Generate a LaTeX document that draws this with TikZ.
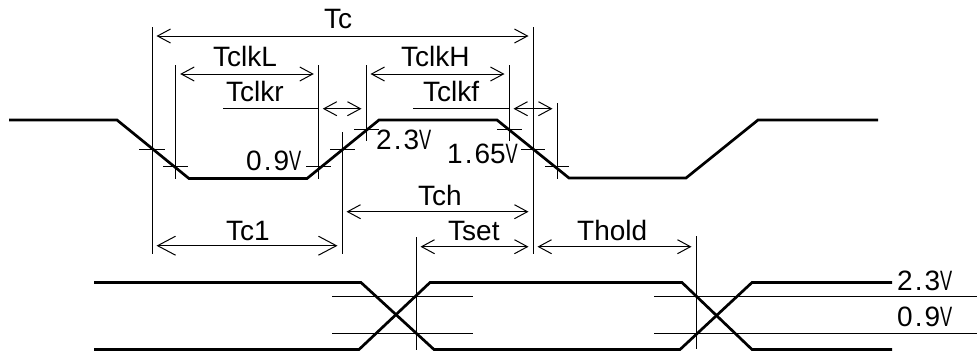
\documentclass[tikz,border=0pt]{standalone}
\usepackage{fontspec}
\usepackage{graphicx}
\setmainfont{Liberation Sans}
\usetikzlibrary{arrows.meta}
\newcommand{\vdot}{\kern2pt.\kern2pt}
\newcommand{\vunit}{\scalebox{.65}[1]{V}}
\tikzset{
    signal/.style={line width=2.7pt},
    guide/.style={line width=1pt},
    dimline/.style={line width=1pt,<->,shorten <=4.5pt,shorten >=4.5pt},
    timelabel/.style={anchor=base west,inner sep=0pt,font=\fontsize{28}{30}\selectfont},
    voltlabel/.style={anchor=base west,inner sep=0pt,font=\fontsize{28}{30}\selectfont},
}

\begin{document}
\begin{tikzpicture}[x=1pt,y=-1pt,>={Straight Barb[length=13pt,width=14pt,line width=1pt]}]
    \useasboundingbox (0,0) rectangle (977,360);
    % clock
    \draw[signal] (9,120) -- (117,120) -- (189,178.5) -- (307,178.5) -- (379,120) -- (497,120)
        -- (569,178) -- (686,178) -- (758,120) -- (878,120);
    % data
    \draw[signal] (94,282.5) -- (361,282.5) -- (434,349.5) -- (680,349.5) -- (752,282.5) -- (892,282.5);
    \draw[signal] (94,349.5) -- (359,349.5) -- (430,282.5) -- (682,282.5) -- (752,349.5) -- (892,349.5);
    % long guide lines
    \draw[guide] (152,27) -- (152,254);
    \draw[guide] (533,27) -- (533,254);
    \draw[guide] (175.7,65) -- (175.7,178.5);
    \draw[guide] (318.3,65) -- (318.3,178.5);
    \draw[guide] (366,65) -- (366,141);
    \draw[guide] (509,65) -- (509,141);
    \draw[guide] (557,103) -- (557,178.5);
    \draw[guide] (342,132) -- (342,254);
    \draw[guide] (416,237) -- (416,350);
    \draw[guide] (696,236) -- (696,349);
    % ticks on the clock edges
    \draw[guide] (139,149.5) -- (164.5,149.5);
    \draw[guide] (163,166) -- (188,166);
    \draw[guide] (306,166) -- (331,166);
    \draw[guide] (330,149.5) -- (355,149.5);
    \draw[guide] (354,129) -- (379,129);
    \draw[guide] (497,129) -- (522,129);
    \draw[guide] (521,149.5) -- (545,149.5);
    \draw[guide] (545,166) -- (569,166);
    % levels
    \draw[guide] (332,296) -- (473,296);
    \draw[guide] (332,333.7) -- (473,333.7);
    \draw[guide] (654,296) -- (977,296);
    \draw[guide] (654,333.7) -- (977,333.7);
    % leaders
    \draw[guide] (223,108.7) -- (318.3,108.7);
    \draw[guide] (413,108.7) -- (509,108.7);
    % dimensions
    \coordinate (tcA) at (152,36);
    \coordinate (tcB) at (533,36);
    \coordinate (tclkLA) at (175.7,74);
    \coordinate (tclkLB) at (318.3,74);
    \coordinate (tclkHA) at (366,74);
    \coordinate (tclkHB) at (509,74);
    \coordinate (tclkrA) at (318.3,108.7);
    \coordinate (tclkrB) at (366,108.7);
    \coordinate (tclkfA) at (509,108.7);
    \coordinate (tclkfB) at (557,108.7);
    \coordinate (tchA) at (342,211.7);
    \coordinate (tchB) at (533,211.7);
    \coordinate (tc1A) at (152,245.7);
    \coordinate (tc1B) at (342,245.7);
    \coordinate (tsetA) at (416,246.7);
    \coordinate (tsetB) at (533,246.7);
    \coordinate (tholdA) at (533,246.7);
    \coordinate (tholdB) at (696,246.7);
    \draw[dimline] (tcA) -- (tcB);
    \draw[dimline] (tclkLA) -- (tclkLB);
    \draw[dimline] (tclkHA) -- (tclkHB);
    \draw[dimline] (tclkrA) -- (tclkrB);
    \draw[dimline] (tclkfA) -- (tclkfB);
    \draw[dimline] (tchA) -- (tchB);
    \draw[dimline,>={Straight Barb[length=18pt,width=19pt,line width=1pt]}] (tc1A) -- (tc1B);
    \draw[dimline] (tsetA) -- (tsetB);
    \draw[dimline] (tholdA) -- (tholdB);
    % labels
    \node[timelabel] (tc) at (324,28) {Tc};
    \node[timelabel] (tclkL) at (213,66.7) {TclkL};
    \node[timelabel] (tclkH) at (401,66.7) {TclkH};
    \node[timelabel] (tclkr) at (226,101.7) {Tclkr};
    \node[timelabel] (tclkf) at (423,101.7) {Tclkf};
    \node[timelabel] (tch) at (418,205) {Tch};
    \node[timelabel] (tc1) at (226,240) {Tc1};
    \node[timelabel] (tset) at (448,240.7) {Tset};
    \node[timelabel] (thold) at (577,240.7) {Thold};
    \node[voltlabel] (lowA) at (246,170) {0\vdot9\vunit};
    \node[voltlabel] (highA) at (376,149) {2\vdot3\vunit};
    \node[voltlabel] (midA) at (447,163) {1\vdot65\vunit};
    \node[voltlabel] (highB) at (897,290) {2\vdot3\vunit};
    \node[voltlabel] (lowB) at (897,326.7) {0\vdot9\vunit};
\end{tikzpicture}
\end{document}
